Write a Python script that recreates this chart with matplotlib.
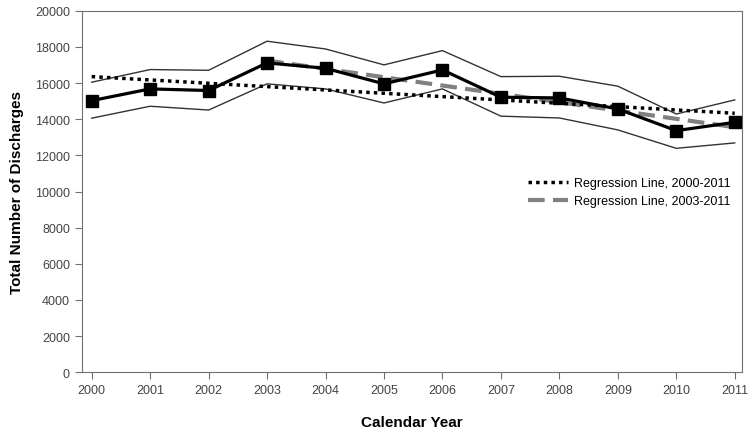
import matplotlib.pyplot as plt

# data
years = [2000, 2001, 2002, 2003, 2004, 2005, 2006, 2007, 2008, 2009, 2010, 2011]
discharges = [15030, 15680, 15590, 17120, 16820, 15960, 16730, 15220, 15180, 14570, 13370, 13830]
upper_ci = [16050, 16750, 16710, 18320, 17890, 17010, 17800, 16360, 16380, 15830, 14290, 15070]
lower_ci = [14060, 14720, 14510, 15960, 15680, 14900, 15680, 14170, 14070, 13410, 12390, 12690]

reg_all_years = [2000, 2011]
reg_all_vals = [16360, 14330]
reg_late_years = [2003, 2011]
reg_late_vals = [17250, 13560]

plt.rcParams['font.family'] = ['Liberation Sans', 'DejaVu Sans']

fig = plt.figure(figsize=(7.5, 4.39), dpi=100)
ax = fig.add_axes([0.109, 0.150, 0.880, 0.823])

ax.plot(years, upper_ci, color="#333333", lw=1.0)
ax.plot(years, lower_ci, color="#333333", lw=1.0)
ax.plot(reg_late_years, reg_late_vals, color="#808080", lw=3, dashes=(4, 2),
        label="Regression Line, 2003-2011", zorder=3)
ax.plot(reg_all_years, reg_all_vals, color="black", lw=2.5, dashes=(1, 1.2),
        label="Regression Line, 2000-2011", zorder=3)
ax.plot(years, discharges, color="black", lw=2.3, marker="s", markersize=9, zorder=4)

ax.set_xlim(1999.83, 2011.12)
ax.set_ylim(0, 20000)
ax.set_xticks(years)
ax.set_yticks(range(0, 20001, 2000))

for s in ax.spines.values():
    s.set_color("#707070")
ax.tick_params(colors="#707070", labelcolor="#444444", labelsize=9, length=5)

ax.set_xlabel("Calendar Year", fontsize=11, fontweight="bold", labelpad=14)
ax.set_ylabel("Total Number of Discharges", fontsize=11, fontweight="bold", labelpad=8)

h, l = ax.get_legend_handles_labels()
ax.legend(h[::-1], l[::-1], loc="upper right", bbox_to_anchor=(1.0, 0.57),
          frameon=False, fontsize=9, handlelength=3.2, handletextpad=0.5, labelspacing=0.45)

plt.savefig("out.png", dpi=100)
